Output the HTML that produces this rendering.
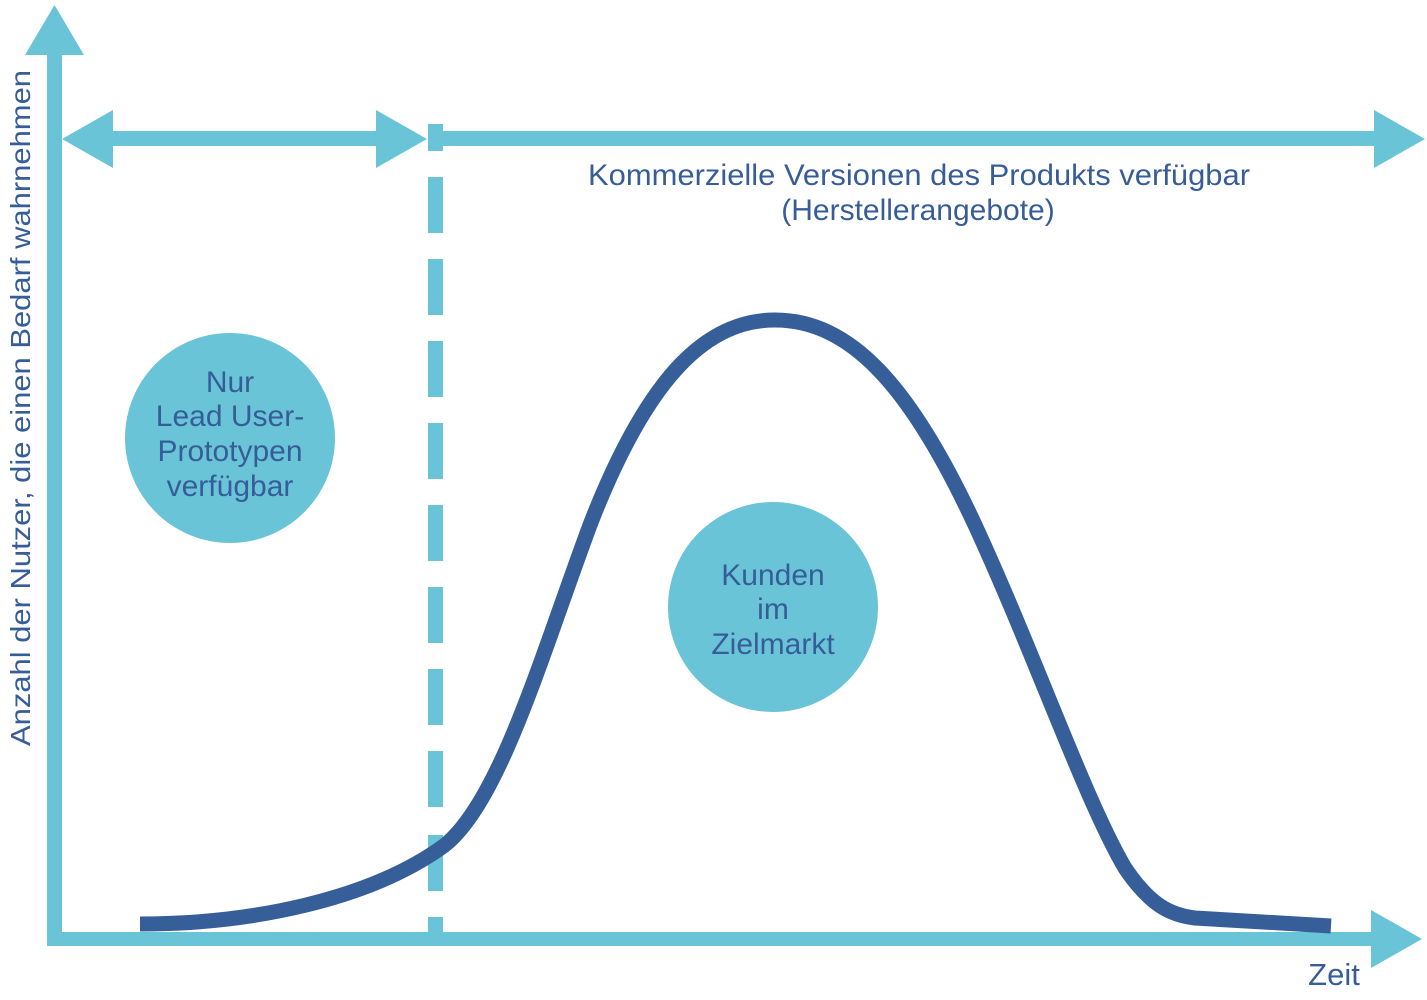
<!DOCTYPE html>
<html><head><meta charset="utf-8"><style>
html,body{margin:0;padding:0;background:#fff;}
svg{display:block;}
text{font-family:"Liberation Sans",Arial,sans-serif;fill:#375d98;}
</style></head><body>
<svg width="1427" height="1000" viewBox="0 0 1427 1000" xmlns="http://www.w3.org/2000/svg">
<g fill="#69c4d7">
  <rect x="47" y="52" width="15" height="894"/>
  <polygon points="25,55 84,55 54.5,5"/>
  <rect x="47" y="932" width="1326" height="14"/>
  <polygon points="1371,910 1371,968 1422,939"/>
  <rect x="110" y="131" width="270" height="15"/>
  <polygon points="62,139 113,110 113,168"/>
  <polygon points="427,139 376,110 376,168"/>
  <rect x="428" y="124" width="15" height="27"/>
  <rect x="443" y="131" width="935" height="15"/>
  <polygon points="1374,110 1374,168 1425,139"/>
  <rect x="428" y="177" width="15" height="56"/>
  <rect x="428" y="259" width="15" height="56"/>
  <rect x="428" y="341" width="15" height="56"/>
  <rect x="428" y="423" width="15" height="56"/>
  <rect x="428" y="505" width="15" height="56"/>
  <rect x="428" y="587" width="15" height="56"/>
  <rect x="428" y="669" width="15" height="56"/>
  <rect x="428" y="751" width="15" height="56"/>
  <rect x="428" y="835" width="15" height="56"/>
  <rect x="428" y="917" width="15" height="20"/>
  <circle cx="230" cy="438" r="105"/>
  <circle cx="773" cy="607" r="105"/>
</g>
<path d="M140,924 C250,924 370,900 445,845 C500,800 540,660 590,525 C650,370 710,320 775,320 C850,320 910,385 975,525 C1035,655 1085,800 1125,868 C1150,905 1170,915 1195,918 L1331,926" fill="none" stroke="#365f9a" stroke-width="15"/>
<text x="0" y="0" font-size="28" text-anchor="middle" transform="translate(30,408) rotate(-90)" textLength="676" lengthAdjust="spacingAndGlyphs">Anzahl der Nutzer, die einen Bedarf wahrnehmen</text>
<text x="919" y="185" font-size="30" text-anchor="middle" textLength="662" lengthAdjust="spacingAndGlyphs">Kommerzielle Versionen des Produkts verfügbar</text>
<text x="918" y="220" font-size="30" text-anchor="middle">(Herstellerangebote)</text>
<g font-size="30" text-anchor="middle">
  <text x="230" y="392">Nur</text>
  <text x="230" y="426">Lead User-</text>
  <text x="230" y="461">Prototypen</text>
  <text x="230" y="496">verfügbar</text>
  <text x="773" y="585">Kunden</text>
  <text x="773" y="619">im</text>
  <text x="773" y="654">Zielmarkt</text>
</g>
<text x="1334" y="985" font-size="31" text-anchor="middle">Zeit</text>
</svg>
</body></html>
